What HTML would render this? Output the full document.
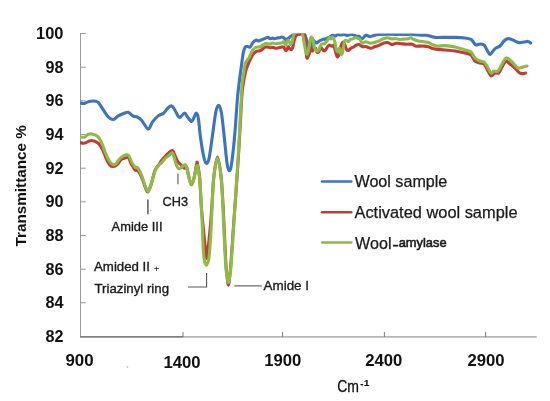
<!DOCTYPE html>
<html><head><meta charset="utf-8"><title>FTIR Transmittance</title>
<style>
html,body{margin:0;padding:0;background:#fff;}
body{width:550px;height:401px;overflow:hidden;}
svg{display:block;}
text{font-family:"Liberation Sans",Arial,sans-serif;fill:#111;}
.yl,.xl{font-weight:bold;font-size:15.6px;}
.yt{font-weight:bold;font-size:15.4px;}
.cm{font-size:16.2px;stroke:#111;stroke-width:0.3px;}
.sup{font-size:9.6px;font-weight:bold;stroke-width:0.2px;}
.lg{font-size:15.6px;fill:#1a1a1a;stroke:#1a1a1a;stroke-width:0.25px;}
.am{font-size:13.5px;fill:#1a1a1a;stroke:#1a1a1a;stroke-width:0.6px;}
.an text{font-size:13.4px;fill:#1a1a1a;stroke:#1a1a1a;stroke-width:0.35px;}
.an .plus{font-size:9px;stroke-width:0.1px;}
</style></head>
<body>
<svg width="550" height="401" viewBox="0 0 550 401">
<defs><clipPath id="pa"><rect x="80" y="33.5" width="460" height="303"/></clipPath></defs>
<rect width="550" height="401" fill="#fff"/>
<g stroke="#9a9a9a" stroke-width="1" fill="none">
<line x1="80.5" y1="33" x2="80.5" y2="337"/>
<line x1="80" y1="33.5" x2="85.8" y2="33.5"/><line x1="80" y1="67.2" x2="85.8" y2="67.2"/><line x1="80" y1="100.8" x2="85.8" y2="100.8"/><line x1="80" y1="134.5" x2="85.8" y2="134.5"/><line x1="80" y1="168.2" x2="85.8" y2="168.2"/><line x1="80" y1="201.8" x2="85.8" y2="201.8"/><line x1="80" y1="235.5" x2="85.8" y2="235.5"/><line x1="80" y1="269.2" x2="85.8" y2="269.2"/><line x1="80" y1="302.8" x2="85.8" y2="302.8"/>
</g>
<g stroke-width="1.8" fill="none">
<line x1="80" y1="336.9" x2="183" y2="336.9" stroke="#808080"/>
<line x1="183" y1="336.9" x2="536.8" y2="336.9" stroke="#b9b9b9"/>
</g>
<g stroke="#7a7a7a" stroke-width="1" fill="none"><line x1="183.0" y1="332" x2="183.0" y2="337"/><line x1="282.6" y1="332" x2="282.6" y2="337"/><line x1="384.4" y1="332" x2="384.4" y2="337"/><line x1="485.6" y1="332" x2="485.6" y2="337"/></g>
<g fill="none" stroke-width="3.1" stroke-linejoin="round" stroke-linecap="round" clip-path="url(#pa)">
<path stroke="#3c74c1" d="M80.5,103.0 C81.2,103.1 83.1,103.7 84.5,103.4 C85.9,103.1 87.3,101.8 89.1,101.4 C90.9,101.0 93.9,101.0 95.5,101.2 C97.1,101.4 97.2,101.3 98.6,102.8 C99.9,104.3 101.8,107.8 103.6,110.3 C105.3,112.8 107.4,116.2 109.1,117.7 C110.8,119.2 112.1,119.8 113.6,119.5 C115.1,119.2 116.5,116.9 118.2,115.9 C119.9,114.9 121.9,114.1 123.6,113.5 C125.3,112.9 126.7,111.9 128.2,112.3 C129.7,112.7 131.2,115.1 132.7,115.9 C134.2,116.7 135.8,116.4 137.3,117.2 C138.8,118.0 140.0,118.5 141.8,120.5 C143.6,122.5 146.4,128.9 148.2,129.1 C150.0,129.3 151.0,123.8 152.7,121.6 C154.4,119.4 156.4,117.3 158.2,115.9 C160.0,114.5 161.9,114.6 163.6,113.2 C165.3,111.8 166.8,108.9 168.2,107.7 C169.6,106.5 170.8,105.6 171.8,105.9 C172.9,106.2 173.4,107.8 174.5,109.5 C175.6,111.2 177.2,114.9 178.2,116.2 C179.2,117.5 179.2,117.8 180.3,117.3 C181.4,116.8 183.4,113.0 184.6,113.0 C185.8,113.0 186.5,115.9 187.7,117.3 C188.9,118.7 190.5,121.5 191.6,121.5 C192.7,121.5 193.3,118.7 194.1,117.3 C194.9,115.9 195.5,112.8 196.2,113.0 C196.9,113.2 197.7,114.3 198.4,118.4 C199.1,122.5 199.6,131.1 200.5,137.5 C201.4,143.9 202.7,152.3 203.7,156.6 C204.7,160.9 205.4,163.0 206.3,163.3 C207.2,163.7 208.0,163.0 209.0,158.7 C210.0,154.4 211.1,145.3 212.2,137.5 C213.3,129.7 214.8,117.4 215.8,112.0 C216.9,106.6 217.6,105.2 218.5,105.2 C219.4,105.2 220.3,106.6 221.3,112.0 C222.3,117.4 223.4,129.0 224.3,137.5 C225.2,146.0 226.2,157.5 227.0,163.0 C227.8,168.5 228.3,170.3 229.0,170.6 C229.7,170.9 230.5,170.5 231.4,165.0 C232.3,159.5 233.5,148.3 234.5,137.5 C235.5,126.7 236.6,108.9 237.3,100.0 C238.1,91.1 238.3,89.8 239.0,84.0 C239.7,78.2 240.8,70.4 241.5,65.2 C242.2,60.0 242.7,55.7 243.3,52.7 C243.9,49.7 244.5,48.1 245.2,47.1 C245.9,46.1 246.9,46.5 247.7,46.5 C248.5,46.5 249.4,47.7 250.2,47.1 C251.0,46.5 251.8,43.9 252.7,42.7 C253.6,41.6 254.8,40.5 255.8,40.2 C256.8,39.9 257.9,41.0 258.9,40.9 C259.9,40.8 260.9,40.0 262.0,39.6 C263.1,39.2 264.2,38.8 265.2,38.4 C266.2,38.0 267.2,37.2 268.0,37.3 C268.8,37.4 269.4,38.7 270.2,38.8 C270.9,38.9 271.8,38.1 272.5,38.1 C273.2,38.1 273.9,38.8 274.7,38.8 C275.4,38.8 276.2,38.3 277.0,38.1 C277.8,37.9 278.4,37.9 279.2,37.7 C280.0,37.5 281.1,37.0 281.8,37.0 C282.6,37.0 283.0,37.2 283.7,37.7 C284.4,38.2 285.3,39.9 286.0,40.0 C286.7,40.1 287.2,39.0 287.8,38.5 C288.4,38.0 289.0,37.8 289.7,37.3 C290.4,36.8 291.3,36.0 291.9,35.5 C292.5,35.0 292.9,34.4 293.4,34.0 C293.9,33.6 294.0,33.2 295.0,33.0 C296.0,32.8 298.0,32.5 299.5,32.5 C301.0,32.5 302.8,32.1 303.9,33.0 C305.0,33.9 305.2,35.8 306.0,38.0 C306.8,40.2 307.8,44.2 308.5,46.0 C309.2,47.8 309.9,49.2 310.5,49.0 C311.1,48.8 311.5,46.5 312.0,45.0 C312.5,43.5 312.6,40.6 313.3,40.3 C314.0,40.0 315.2,42.7 316.0,43.0 C316.8,43.3 317.1,42.6 317.8,42.1 C318.6,41.6 319.4,40.8 320.5,40.3 C321.6,39.8 323.4,39.2 324.1,39.0 C324.9,38.8 324.4,39.5 325.0,39.3 C325.6,39.1 326.7,38.4 327.6,38.0 C328.5,37.6 329.3,37.2 330.2,36.7 C331.1,36.2 332.1,35.1 332.9,35.0 C333.7,34.9 334.2,36.4 335.0,36.3 C335.8,36.2 336.8,34.7 337.7,34.5 C338.6,34.3 339.6,35.0 340.7,35.0 C341.8,35.0 343.0,34.4 344.2,34.5 C345.4,34.6 346.5,35.4 347.7,35.4 C348.9,35.4 350.2,34.6 351.2,34.5 C352.2,34.4 352.9,34.7 353.8,35.0 C354.7,35.3 355.5,36.1 356.4,36.3 C357.3,36.5 358.0,35.9 359.0,36.3 C360.0,36.7 361.1,39.0 362.2,38.8 C363.3,38.6 364.5,35.6 365.8,35.2 C367.1,34.8 368.8,36.6 370.2,36.6 C371.6,36.6 373.1,35.6 374.5,35.3 C375.9,34.9 376.5,34.7 378.9,34.5 C381.3,34.3 385.0,34.3 389.1,34.3 C393.2,34.3 400.0,34.5 403.6,34.5 C407.2,34.5 408.9,34.2 410.9,34.3 C412.8,34.3 413.6,34.7 415.3,34.8 C417.0,34.9 419.2,35.0 421.1,35.1 C423.0,35.2 425.2,35.0 426.9,35.2 C428.6,35.5 429.9,36.2 431.3,36.6 C432.8,37.0 433.3,37.3 435.6,37.4 C437.9,37.5 441.8,37.4 445.0,37.4 C448.2,37.4 451.7,37.3 455.0,37.4 C458.3,37.5 462.3,37.7 465.0,38.0 C467.7,38.3 469.5,38.6 471.0,39.4 C472.5,40.2 473.2,42.1 474.0,43.0 C474.8,43.9 475.0,44.8 476.0,45.0 C477.0,45.2 478.7,44.0 480.0,44.0 C481.3,44.0 482.8,44.0 484.0,45.0 C485.2,46.0 486.0,48.4 487.0,50.0 C488.0,51.6 489.0,54.4 490.0,54.6 C491.0,54.8 492.0,52.1 493.0,51.0 C494.0,49.9 494.8,48.8 496.0,48.0 C497.2,47.2 498.7,47.2 500.0,46.0 C501.3,44.8 502.7,42.2 504.0,41.0 C505.3,39.8 506.5,38.8 508.0,38.6 C509.5,38.4 511.2,39.3 513.0,40.0 C514.8,40.7 517.2,42.3 519.0,42.6 C520.8,42.9 522.5,42.2 524.0,42.0 C525.5,41.8 526.9,41.2 528.0,41.4 C529.1,41.6 530.2,42.7 530.6,43.0"/>
<path stroke="#c33b38" d="M80.5,142.8 C81.2,142.9 83.2,143.4 84.7,143.1 C86.2,142.8 87.8,141.3 89.3,140.9 C90.8,140.5 92.4,140.4 94.0,140.9 C95.6,141.4 97.3,142.3 98.7,143.7 C100.1,145.1 101.2,146.8 102.4,149.3 C103.7,151.8 105.0,155.9 106.2,158.6 C107.5,161.2 108.7,163.9 109.9,165.2 C111.1,166.5 112.3,166.7 113.6,166.5 C114.8,166.3 116.2,165.5 117.4,164.3 C118.7,163.2 119.7,160.7 121.1,159.6 C122.5,158.5 124.5,158.0 125.8,157.7 C127.0,157.4 127.7,156.6 128.6,157.7 C129.5,158.8 130.3,162.3 131.4,164.3 C132.5,166.3 134.0,168.8 135.1,169.9 C136.2,171.0 136.8,169.6 137.9,170.8 C139.0,172.0 140.4,174.5 141.7,177.3 C142.9,180.1 144.4,185.2 145.4,187.6 C146.4,190.0 147.0,192.4 147.9,191.9 C148.8,191.4 149.8,188.3 151.0,184.8 C152.2,181.3 153.6,174.1 154.8,170.8 C156.1,167.5 157.4,166.8 158.5,165.2 C159.6,163.6 159.9,162.7 161.2,161.0 C162.5,159.3 164.7,156.8 166.5,155.0 C168.3,153.2 170.8,150.5 172.2,150.5 C173.6,150.5 173.8,153.1 174.7,155.0 C175.6,156.9 176.6,160.0 177.7,161.7 C178.8,163.4 180.3,164.1 181.4,165.2 C182.5,166.3 183.5,168.0 184.4,168.3 C185.3,168.6 186.1,166.1 186.7,167.0 C187.3,167.9 187.6,171.4 188.2,174.0 C188.8,176.6 189.8,181.0 190.4,182.7 C191.0,184.4 191.3,185.1 191.9,184.2 C192.5,183.3 193.4,180.6 194.2,177.4 C194.9,174.2 195.9,167.4 196.4,165.0 C196.9,162.6 196.9,160.9 197.4,163.1 C197.9,165.3 199.0,170.8 199.7,178.0 C200.3,185.2 200.7,197.9 201.3,206.2 C201.9,214.5 202.7,221.5 203.3,228.0 C203.9,234.5 204.5,240.5 205.0,245.0 C205.5,249.5 205.9,252.7 206.2,255.0 C206.5,257.3 206.6,258.6 206.8,258.6 C207.0,258.6 207.1,257.3 207.4,255.0 C207.7,252.7 208.0,249.5 208.5,245.0 C209.0,240.5 209.6,234.5 210.2,228.0 C210.8,221.5 211.3,214.3 211.9,206.0 C212.5,197.7 212.8,186.2 213.7,178.0 C214.6,169.8 216.2,157.1 217.5,157.1 C218.8,157.1 220.3,169.8 221.2,178.0 C222.1,186.2 222.6,198.2 223.1,206.0 C223.6,213.8 223.5,215.2 224.0,225.0 C224.5,234.8 225.4,255.8 226.0,265.0 C226.6,274.2 227.1,276.6 227.5,280.0 C227.9,283.4 228.1,285.1 228.4,285.1 C228.7,285.1 228.9,283.4 229.3,280.0 C229.7,276.6 230.1,274.2 230.8,265.0 C231.5,255.8 232.7,237.9 233.6,225.0 C234.5,212.1 235.4,200.0 236.3,187.5 C237.2,175.0 237.9,164.6 238.8,150.0 C239.7,135.4 240.9,111.0 241.6,100.0 C242.3,89.0 242.5,88.8 243.2,84.0 C243.9,79.2 244.8,74.8 245.6,71.4 C246.4,68.1 247.4,66.1 248.3,63.9 C249.2,61.7 250.0,60.0 250.8,58.3 C251.6,56.6 252.4,55.0 253.3,53.9 C254.2,52.8 255.4,51.9 256.4,51.4 C257.4,50.9 258.6,51.1 259.5,50.8 C260.4,50.5 261.1,50.2 262.0,49.6 C262.9,49.0 264.2,47.5 265.2,47.1 C266.2,46.7 267.2,47.0 268.0,47.1 C268.8,47.2 269.3,47.8 270.2,47.8 C271.1,47.8 272.3,47.3 273.2,47.4 C274.1,47.5 274.6,48.1 275.5,48.2 C276.4,48.3 277.5,48.0 278.5,47.8 C279.5,47.6 280.6,47.2 281.5,47.1 C282.4,47.0 283.0,46.6 283.7,47.1 C284.4,47.6 285.0,50.0 285.6,50.4 C286.2,50.8 286.7,50.3 287.1,49.7 C287.5,49.1 287.8,46.9 288.2,46.7 C288.6,46.5 289.2,48.1 289.7,48.6 C290.2,49.1 290.7,49.9 291.2,49.7 C291.7,49.5 292.2,48.9 292.7,47.4 C293.2,45.9 293.7,42.6 294.2,40.7 C294.7,38.8 295.1,37.2 295.7,36.2 C296.2,35.2 296.9,35.0 297.5,34.7 C298.1,34.4 298.4,34.6 299.0,34.5 C299.6,34.4 299.9,34.0 300.8,34.0 C301.7,34.0 303.5,32.9 304.3,34.5 C305.1,36.1 305.3,40.2 305.7,43.9 C306.1,47.6 306.3,54.2 306.6,56.5 C306.9,58.8 307.1,58.2 307.5,57.8 C307.9,57.3 308.7,55.4 309.3,53.8 C309.9,52.2 310.6,48.8 311.1,48.4 C311.6,48.0 311.9,51.0 312.4,51.1 C312.8,51.2 313.3,49.8 313.8,49.3 C314.3,48.8 315.1,47.9 315.6,48.4 C316.1,48.9 316.4,51.4 316.9,52.0 C317.4,52.6 318.0,52.8 318.7,52.0 C319.4,51.2 320.1,47.8 320.9,47.5 C321.6,47.2 322.5,49.7 323.2,50.2 C323.9,50.7 324.3,51.2 325.0,50.7 C325.7,50.2 326.5,48.2 327.2,47.2 C327.9,46.2 328.6,45.1 329.4,45.0 C330.2,44.9 331.3,46.2 332.0,46.3 C332.7,46.4 333.1,44.6 333.7,45.5 C334.3,46.4 334.9,49.7 335.5,51.6 C336.1,53.5 336.6,56.4 337.2,56.8 C337.8,57.2 338.4,56.1 339.0,54.2 C339.6,52.3 340.4,47.5 341.1,45.5 C341.8,43.5 342.6,42.0 343.3,42.0 C344.0,42.0 344.5,44.2 345.1,45.5 C345.7,46.8 346.2,49.0 346.8,49.8 C347.4,50.6 347.9,50.6 348.6,50.3 C349.3,50.0 350.3,48.7 351.2,48.1 C352.1,47.5 352.9,47.3 353.8,46.8 C354.7,46.3 355.5,45.4 356.4,45.0 C357.3,44.6 357.9,44.3 359.0,44.6 C360.1,44.9 361.8,46.5 362.9,46.8 C364.0,47.1 364.5,46.2 365.8,46.5 C367.1,46.8 369.4,48.2 370.9,48.3 C372.3,48.3 373.2,47.3 374.5,46.8 C375.8,46.3 377.4,46.0 378.9,45.4 C380.4,44.8 381.9,43.7 383.3,43.2 C384.8,42.7 386.2,42.3 387.6,42.5 C389.1,42.7 390.5,44.5 392.0,44.6 C393.5,44.7 394.7,43.3 396.4,43.2 C398.1,43.1 400.3,43.7 402.2,43.9 C404.1,44.1 406.3,44.2 408.0,44.2 C409.7,44.2 411.2,43.9 412.4,44.2 C413.6,44.5 414.1,45.8 415.3,46.1 C416.5,46.4 418.2,46.1 419.6,46.1 C421.1,46.1 422.5,46.0 424.0,46.1 C425.5,46.2 426.9,46.4 428.4,46.8 C429.8,47.2 431.2,48.2 432.7,48.6 C434.1,49.0 435.1,49.2 437.1,49.4 C439.2,49.6 442.0,49.7 445.0,50.0 C448.0,50.3 451.7,50.5 455.0,51.0 C458.3,51.5 462.3,52.3 465.0,53.0 C467.7,53.7 469.3,53.7 471.0,55.0 C472.7,56.3 473.5,59.7 475.0,61.0 C476.5,62.3 478.5,62.5 480.0,63.0 C481.5,63.5 482.7,62.7 484.0,64.0 C485.3,65.3 486.8,69.0 488.0,71.0 C489.2,73.0 489.8,75.7 491.0,76.0 C492.2,76.3 493.7,73.5 495.0,73.0 C496.3,72.5 497.4,74.0 498.6,73.0 C499.8,72.0 500.8,69.0 502.0,67.0 C503.2,65.0 504.7,61.5 506.0,61.0 C507.3,60.5 508.5,62.8 510.0,64.0 C511.5,65.2 513.5,66.6 515.0,68.0 C516.5,69.4 517.8,71.6 519.0,72.5 C520.2,73.4 521.4,73.5 522.5,73.6 C523.6,73.7 525.0,73.1 525.5,73.0"/>
<path stroke="#8dbb46" d="M80.5,137.1 C81.2,137.1 83.4,137.6 84.7,137.1 C86.0,136.6 87.0,134.8 88.4,134.3 C89.8,133.8 91.5,133.8 93.1,134.2 C94.7,134.6 96.4,135.2 97.8,136.6 C99.2,137.9 100.3,139.7 101.5,142.3 C102.7,144.9 104.0,149.3 105.2,152.3 C106.5,155.3 107.8,158.5 109.0,160.5 C110.2,162.5 111.6,163.7 112.7,164.3 C113.8,164.9 114.6,164.9 115.5,164.3 C116.4,163.7 117.2,161.8 118.3,160.5 C119.4,159.2 120.6,157.7 122.0,156.8 C123.4,155.9 125.5,155.1 126.7,154.9 C127.9,154.7 128.2,154.7 129.0,155.8 C129.8,156.9 130.4,159.5 131.4,161.4 C132.4,163.3 134.0,166.0 135.1,167.1 C136.2,168.2 136.8,166.6 137.9,168.0 C139.0,169.4 140.4,172.4 141.7,175.5 C142.9,178.6 144.3,184.0 145.4,186.7 C146.5,189.3 147.3,191.7 148.2,191.4 C149.1,191.1 149.9,188.1 151.0,184.8 C152.1,181.5 153.6,175.0 154.8,171.7 C156.1,168.4 157.4,166.6 158.5,165.2 C159.6,163.8 160.0,164.4 161.2,163.2 C162.4,162.0 164.3,159.4 165.7,158.0 C167.1,156.6 168.4,155.9 169.5,155.0 C170.6,154.1 171.4,152.4 172.2,152.7 C172.9,153.0 173.3,154.8 174.0,156.8 C174.7,158.9 175.7,163.1 176.4,165.0 C177.1,166.9 177.7,167.9 178.4,168.4 C179.1,168.9 179.8,168.7 180.7,168.2 C181.6,167.7 182.8,165.9 183.7,165.4 C184.6,164.9 185.2,163.9 185.9,165.4 C186.7,166.9 187.4,171.5 188.2,174.4 C188.9,177.3 189.8,181.1 190.4,182.7 C191.0,184.3 191.3,185.1 191.9,184.2 C192.5,183.3 193.4,180.2 194.2,177.4 C194.9,174.6 195.8,169.0 196.4,167.2 C197.0,165.3 197.1,164.4 197.6,166.3 C198.1,168.2 199.1,171.8 199.7,178.5 C200.3,185.2 200.9,197.9 201.3,206.2 C201.8,214.4 202.1,220.9 202.4,228.0 C202.7,235.1 202.9,244.0 203.2,249.0 C203.5,254.0 203.7,255.7 204.0,258.0 C204.3,260.3 204.6,261.6 205.0,262.8 C205.4,264.0 205.9,265.2 206.4,265.2 C206.9,265.2 207.4,264.0 207.8,262.8 C208.2,261.6 208.6,260.3 208.9,258.0 C209.2,255.7 209.5,252.7 209.8,249.0 C210.1,245.3 210.4,240.0 210.7,236.0 C210.9,232.0 211.1,230.0 211.3,225.0 C211.5,220.0 211.7,213.8 212.1,206.0 C212.5,198.2 212.8,185.9 213.7,178.0 C214.6,170.1 216.1,158.4 217.3,158.4 C218.6,158.4 220.3,170.1 221.2,178.0 C222.1,185.9 222.5,198.2 222.9,206.0 C223.3,213.8 223.2,215.2 223.7,225.0 C224.2,234.8 225.1,256.2 225.7,265.0 C226.3,273.8 226.9,275.1 227.3,278.0 C227.8,280.9 228.0,282.6 228.4,282.6 C228.8,282.6 229.1,280.9 229.5,278.0 C229.9,275.1 230.4,273.8 231.1,265.0 C231.8,256.2 232.8,237.9 233.7,225.0 C234.5,212.1 235.4,200.0 236.2,187.5 C237.0,175.0 237.8,164.6 238.6,150.0 C239.4,135.4 240.6,111.0 241.2,100.0 C241.8,89.0 241.6,88.8 242.1,84.0 C242.6,79.2 243.5,74.8 244.0,71.4 C244.5,68.1 244.7,65.8 245.2,63.9 C245.7,62.0 246.5,61.2 247.1,60.2 C247.7,59.2 248.4,58.8 249.0,57.7 C249.6,56.7 250.2,55.1 250.8,53.9 C251.4,52.6 252.0,51.2 252.7,50.2 C253.4,49.2 254.4,48.2 255.2,47.7 C256.0,47.2 256.8,47.3 257.7,47.1 C258.6,46.9 259.9,46.9 260.8,46.5 C261.7,46.1 262.4,45.1 263.3,44.6 C264.2,44.1 265.6,43.4 266.4,43.3 C267.2,43.1 267.4,43.6 268.0,43.7 C268.6,43.8 269.4,44.2 270.2,44.1 C270.9,44.0 271.6,43.1 272.5,43.0 C273.4,42.9 274.5,43.7 275.5,43.7 C276.5,43.8 277.5,43.4 278.5,43.3 C279.5,43.2 280.6,43.2 281.5,43.0 C282.4,42.8 283.0,41.5 283.7,41.8 C284.4,42.1 285.0,44.8 285.6,44.8 C286.2,44.8 286.6,42.2 287.1,41.5 C287.6,40.8 288.1,39.9 288.6,40.3 C289.2,40.7 289.8,43.6 290.4,44.1 C290.9,44.6 291.4,44.1 291.9,43.0 C292.3,41.9 292.8,39.1 293.1,37.7 C293.4,36.3 293.5,35.4 293.8,34.4 C294.1,33.4 294.0,32.6 295.0,32.0 C296.0,31.4 298.7,30.7 300.0,31.0 C301.3,31.3 301.9,31.9 302.6,34.0 C303.3,36.1 303.7,40.8 304.3,43.9 C304.9,47.0 305.6,51.2 306.1,52.9 C306.6,54.5 307.1,54.5 307.5,53.8 C307.9,53.0 308.3,50.9 308.8,48.4 C309.3,45.9 310.2,40.5 310.6,38.6 C311.1,36.7 311.1,37.1 311.5,37.2 C311.9,37.4 312.4,37.9 312.9,39.5 C313.3,41.1 313.8,44.8 314.2,46.6 C314.6,48.4 315.2,49.5 315.6,50.2 C316.1,51.0 316.4,51.1 316.9,51.1 C317.4,51.1 318.2,51.0 318.7,50.2 C319.2,49.5 319.5,47.7 320.0,46.6 C320.5,45.5 321.1,44.4 321.8,43.9 C322.5,43.4 323.6,44.0 324.1,43.9 C324.6,43.8 324.4,43.9 325.0,43.3 C325.6,42.7 326.9,41.2 327.6,40.2 C328.3,39.2 328.8,37.8 329.4,37.6 C330.0,37.4 330.5,39.0 331.1,38.9 C331.7,38.8 332.3,36.8 332.9,37.2 C333.5,37.6 334.0,39.0 334.6,41.1 C335.2,43.2 335.7,48.0 336.3,49.8 C336.9,51.5 337.6,51.9 338.1,51.6 C338.6,51.3 339.0,47.8 339.4,48.1 C339.8,48.4 340.3,52.3 340.7,53.3 C341.1,54.3 341.6,55.1 342.0,54.2 C342.4,53.3 342.9,50.3 343.3,48.1 C343.7,45.9 344.0,42.3 344.6,41.1 C345.2,39.9 346.1,40.6 346.8,40.7 C347.5,40.8 348.0,41.7 348.6,41.5 C349.2,41.3 349.6,39.7 350.3,39.3 C351.0,38.9 352.0,39.2 352.9,38.9 C353.8,38.6 354.6,37.7 355.5,37.6 C356.4,37.5 357.4,38.2 358.2,38.5 C358.9,38.8 359.3,38.5 360.0,39.3 C360.7,40.1 361.2,42.8 362.2,43.2 C363.2,43.6 364.5,41.7 365.8,41.7 C367.1,41.7 368.8,43.1 370.2,43.2 C371.6,43.3 373.1,42.9 374.5,42.5 C375.9,42.1 377.4,41.6 378.9,41.0 C380.4,40.4 381.9,39.3 383.3,38.8 C384.8,38.3 386.3,37.8 387.6,37.8 C388.9,37.8 389.8,38.6 391.3,38.8 C392.8,39.0 395.1,38.7 396.4,38.8 C397.7,38.9 398.1,39.5 399.3,39.5 C400.5,39.5 402.2,39.2 403.6,39.1 C405.1,39.0 406.8,39.0 408.0,38.8 C409.2,38.6 409.9,37.7 410.9,37.8 C411.9,37.9 412.6,39.0 413.8,39.5 C415.0,40.0 416.5,40.6 418.2,41.0 C419.9,41.4 422.3,41.5 424.0,41.7 C425.7,42.0 426.9,42.0 428.4,42.5 C429.8,43.0 431.2,44.0 432.7,44.6 C434.1,45.2 435.1,45.9 437.1,46.1 C439.2,46.3 442.0,45.5 445.0,45.6 C448.0,45.8 451.7,46.3 455.0,47.0 C458.3,47.7 462.3,49.2 465.0,50.0 C467.7,50.8 469.3,50.7 471.0,52.0 C472.7,53.3 473.5,56.5 475.0,58.0 C476.5,59.5 478.5,60.3 480.0,61.0 C481.5,61.7 482.8,61.2 484.0,62.0 C485.2,62.8 485.8,64.2 487.0,66.0 C488.2,67.8 489.8,72.2 491.0,73.0 C492.2,73.8 492.8,71.3 494.0,71.0 C495.2,70.7 496.7,72.2 498.0,71.0 C499.3,69.8 500.7,66.2 502.0,64.0 C503.3,61.8 504.7,58.7 506.0,58.0 C507.3,57.3 508.7,59.0 510.0,60.0 C511.3,61.0 512.7,62.7 514.0,64.0 C515.3,65.3 516.5,67.5 518.0,68.0 C519.5,68.5 521.5,67.3 523.0,67.0 C524.5,66.7 526.3,66.2 527.0,66.0"/>
</g>
<g class="lab">
<text x="63.4" y="38.8" text-anchor="end" class="yl" textLength="27.4" lengthAdjust="spacingAndGlyphs">100</text><text x="63.4" y="72.5" text-anchor="end" class="yl" textLength="18.0" lengthAdjust="spacingAndGlyphs">98</text><text x="63.4" y="106.1" text-anchor="end" class="yl" textLength="18.0" lengthAdjust="spacingAndGlyphs">96</text><text x="63.4" y="139.8" text-anchor="end" class="yl" textLength="18.0" lengthAdjust="spacingAndGlyphs">94</text><text x="63.4" y="173.5" text-anchor="end" class="yl" textLength="18.0" lengthAdjust="spacingAndGlyphs">92</text><text x="63.4" y="207.1" text-anchor="end" class="yl" textLength="18.0" lengthAdjust="spacingAndGlyphs">90</text><text x="63.4" y="240.8" text-anchor="end" class="yl" textLength="18.0" lengthAdjust="spacingAndGlyphs">88</text><text x="63.4" y="274.5" text-anchor="end" class="yl" textLength="18.0" lengthAdjust="spacingAndGlyphs">86</text><text x="63.4" y="308.1" text-anchor="end" class="yl" textLength="18.0" lengthAdjust="spacingAndGlyphs">84</text><text x="63.4" y="341.8" text-anchor="end" class="yl" textLength="18.0" lengthAdjust="spacingAndGlyphs">82</text>
<text x="79.5" y="365.6" text-anchor="middle" class="xl" textLength="28.1" lengthAdjust="spacingAndGlyphs">900</text><text x="182.0" y="367.6" text-anchor="middle" class="xl" textLength="37.2" lengthAdjust="spacingAndGlyphs">1400</text><text x="282.8" y="365.6" text-anchor="middle" class="xl" textLength="37.2" lengthAdjust="spacingAndGlyphs">1900</text><text x="383.8" y="365.6" text-anchor="middle" class="xl" textLength="37.2" lengthAdjust="spacingAndGlyphs">2400</text><text x="486.0" y="365.6" text-anchor="middle" class="xl" textLength="37.2" lengthAdjust="spacingAndGlyphs">2900</text>
</g>
<text x="0" y="0" transform="translate(26.4,185.8) rotate(-90)" text-anchor="middle" class="yt" textLength="121.5" lengthAdjust="spacingAndGlyphs">Transmittance %</text>
<text x="337.2" y="392" class="cm"><tspan textLength="21.8" lengthAdjust="spacingAndGlyphs">Cm</tspan><tspan class="sup" x="360.2" y="386.6">-</tspan><tspan class="sup" x="363.9" y="385.6">1</tspan></text>
<g stroke-width="2.4" stroke-linecap="round" fill="none">
<line x1="322" y1="181.5" x2="351.3" y2="181.5" stroke="#3c74c1"/>
<line x1="322" y1="212.3" x2="351.3" y2="212.3" stroke="#c33b38"/>
<line x1="322" y1="242.5" x2="351.3" y2="242.5" stroke="#8dbb46"/>
</g>
<text x="354.5" y="186.7" class="lg" textLength="92.8" lengthAdjust="spacingAndGlyphs">Wool sample</text>
<text x="354.5" y="217.7" class="lg" textLength="163" lengthAdjust="spacingAndGlyphs">Activated wool sample</text>
<text x="355.1" y="248.6" class="lg" textLength="36.4" lengthAdjust="spacingAndGlyphs">Wool</text>
<text x="392.6" y="249.3" class="am dash" textLength="6.2" lengthAdjust="spacingAndGlyphs">-</text>
<text x="398.7" y="247.4" class="am" textLength="47.9" lengthAdjust="spacingAndGlyphs">amylase</text>
<g stroke="#555" stroke-width="1.1" fill="none">
<line x1="147.9" y1="199.6" x2="147.9" y2="214.3" stroke-width="1.5" stroke="#5a5a5a"/>
<line x1="177.9" y1="173.6" x2="177.9" y2="184.2" stroke-width="1.5" stroke="#858585"/>
<polyline points="187.9,287 206.6,287 206.6,273"/>
<line x1="234.3" y1="285.9" x2="261.8" y2="285.9"/>
</g>
<circle cx="150.7" cy="210.3" r="0.8" fill="#b0b0b0"/>
<circle cx="127.5" cy="366.9" r="0.8" fill="#b8b8b8"/>
<g class="an">
<text x="162.5" y="205.8" textLength="25.5" lengthAdjust="spacingAndGlyphs">CH3</text>
<text x="111.6" y="230.7" textLength="50.9" lengthAdjust="spacingAndGlyphs">Amide III</text>
<text x="94" y="270.8" textLength="56" lengthAdjust="spacingAndGlyphs">Amided II</text>
<text x="154.1" y="272" class="plus">+</text>
<text x="94.5" y="292.5" textLength="74.5" lengthAdjust="spacingAndGlyphs">Triazinyl ring</text>
<text x="263.6" y="290" textLength="45.4" lengthAdjust="spacingAndGlyphs">Amide I</text>
</g>
</svg>
</body></html>
